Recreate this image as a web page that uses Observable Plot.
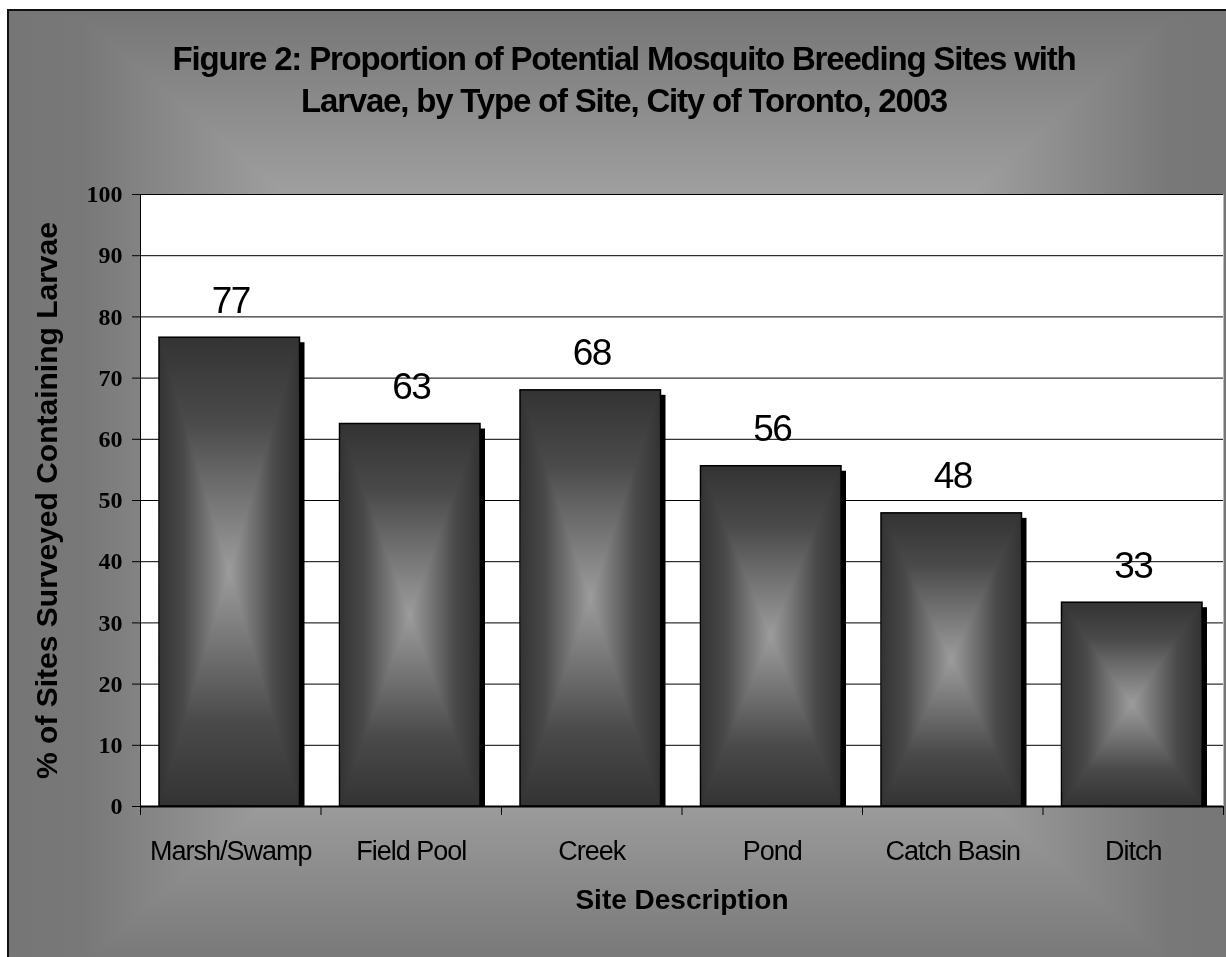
<!DOCTYPE html>
<html>
<head>
<meta charset="utf-8">
<script src="https://cdn.jsdelivr.net/npm/d3@7"></script>
<script src="https://cdn.jsdelivr.net/npm/@observablehq/plot@0.6"></script>
<style>
  html, body { margin: 0; padding: 0; background: #fff; width: 1226px; height: 957px; overflow: hidden; position: relative; }
  #frame {
    position: absolute; left: 7px; top: 9px; width: 1236px; height: 960px;
    border-left: 2px solid #111; border-top: 2px solid #111;
    background:
      linear-gradient(to right, #767676 0%, #787878 6%, #e2e2e2 50%, #787878 94%, #767676 100%),
      linear-gradient(to bottom, #767676 0%, #e2e2e2 50%, #767676 100%);
    background-blend-mode: darken;
  }
  #title {
    position: absolute; left: 0; top: 38px; width: 1248px; text-align: center;
    font: bold 33px "Liberation Sans", Arial, sans-serif; letter-spacing: -1.2px;
    line-height: 42px; color: #000;
  }
  #chart { position: absolute; left: 0; top: 140px; }
  #chart svg g[font-size="37"] { letter-spacing: -1.5px; }
  #chart svg g[font-size="27"] { letter-spacing: -1px; }
</style>
</head>
<body>
<div id="frame"></div>
<div id="title">Figure 2: Proportion of Potential Mosquito Breeding Sites with<br>Larvae, by Type of Site, City of Toronto, 2003</div>
<div id="chart"></div>
<script>
// ---- data ----
const categories = ["Marsh/Swamp", "Field Pool", "Creek", "Pond", "Catch Basin", "Ditch"];
const values = [76.6, 62.5, 68.0, 55.6, 47.9, 33.3];
const valueLabels = ["77", "63", "68", "56", "48", "33"];
const yTicks = [0, 10, 20, 30, 40, 50, 60, 70, 80, 90, 100];
const yLabel = "% of Sites Surveyed Containing Larvae";
const xLabel = "Site Description";

const data = categories.map((name, i) => ({i, name, value: values[i], label: valueLabels[i]}));
const boundaries = categories.map((_, i) => i).concat([categories.length]);

const sans = "'Liberation Sans', Arial, sans-serif";
const serif = "'Liberation Serif', 'Times New Roman', serif";

const bandX = {x1: d => d.i, x2: d => d.i + 1, y: "value", insetLeft: 19, insetRight: 21};

const chart = Plot.plot({
  width: 1226,
  height: 817,
  marginLeft: 140,
  marginRight: 3,
  marginTop: 54,
  marginBottom: 151,
  style: {background: "transparent", fontFamily: sans, color: "black", overflow: "visible"},
  x: {type: "linear", domain: [0, categories.length], axis: null},
  y: {domain: [0, 100], axis: null},
  marks: [
    Plot.frame({fill: "white"}),
    Plot.gridY(yTicks, {stroke: "black", strokeOpacity: 1, strokeWidth: 1}),
    Plot.axisY(yTicks, {tickSize: 8, tickPadding: 10, fontSize: 24, fontFamily: serif, fontWeight: "bold", label: null, stroke: "black"}),
    Plot.axisX(boundaries, {tickSize: 9, tickFormat: () => "", label: null, stroke: "black"}),
    // shadow
    Plot.rectY(data, {...bandX, dx: 5, insetTop: 5, fill: "black"}),
    // horizontal gradient layer
    Plot.rectY(data, {...bandX, fill: "url(#barH)"}),
    // vertical gradient layer (darken -> rectangular gradient)
    Plot.rectY(data, {...bandX, fill: "url(#barV)", mixBlendMode: "darken", stroke: "black", strokeWidth: 1.5}),
    Plot.ruleX([0], {stroke: "black", strokeWidth: 1}),
    Plot.ruleY([0], {stroke: "black", strokeWidth: 2}),
    // value labels
    Plot.text(data, {x: d => d.i + 0.5, y: "value", text: "label", dy: -25, lineAnchor: "bottom", fontSize: 37, fill: "black"}),
    // category labels
    Plot.text(data, {x: d => d.i + 0.5, frameAnchor: "bottom", text: "name", dy: 53, lineAnchor: "bottom", fontSize: 27, fill: "black"}),
    // axis titles
    Plot.text([xLabel], {frameAnchor: "bottom", text: d => d, dy: 102, lineAnchor: "bottom", fontSize: 28, fontWeight: "bold", fill: "black"}),
    Plot.text([yLabel], {frameAnchor: "left", text: d => d, dx: -93, rotate: -90, textAnchor: "middle", lineAnchor: "middle", fontSize: 30, fontWeight: "bold", fill: "black"})
  ]
});

// gradient definitions
const defs = d3.create("svg:defs");
function grad(id, x2, y2) {
  const g = defs.append("linearGradient").attr("id", id)
    .attr("x1", 0).attr("y1", 0).attr("x2", x2).attr("y2", y2);
  g.append("stop").attr("offset", "0%").attr("stop-color", "#333333");
  g.append("stop").attr("offset", "18%").attr("stop-color", "#4a4a4a");
  g.append("stop").attr("offset", "50%").attr("stop-color", "#9c9c9c");
  g.append("stop").attr("offset", "82%").attr("stop-color", "#4a4a4a");
  g.append("stop").attr("offset", "100%").attr("stop-color", "#333333");
}
grad("barH", 1, 0);
grad("barV", 0, 1);
chart.insertBefore(defs.node(), chart.firstChild);

document.getElementById("chart").appendChild(chart);
</script>
</body>
</html>
